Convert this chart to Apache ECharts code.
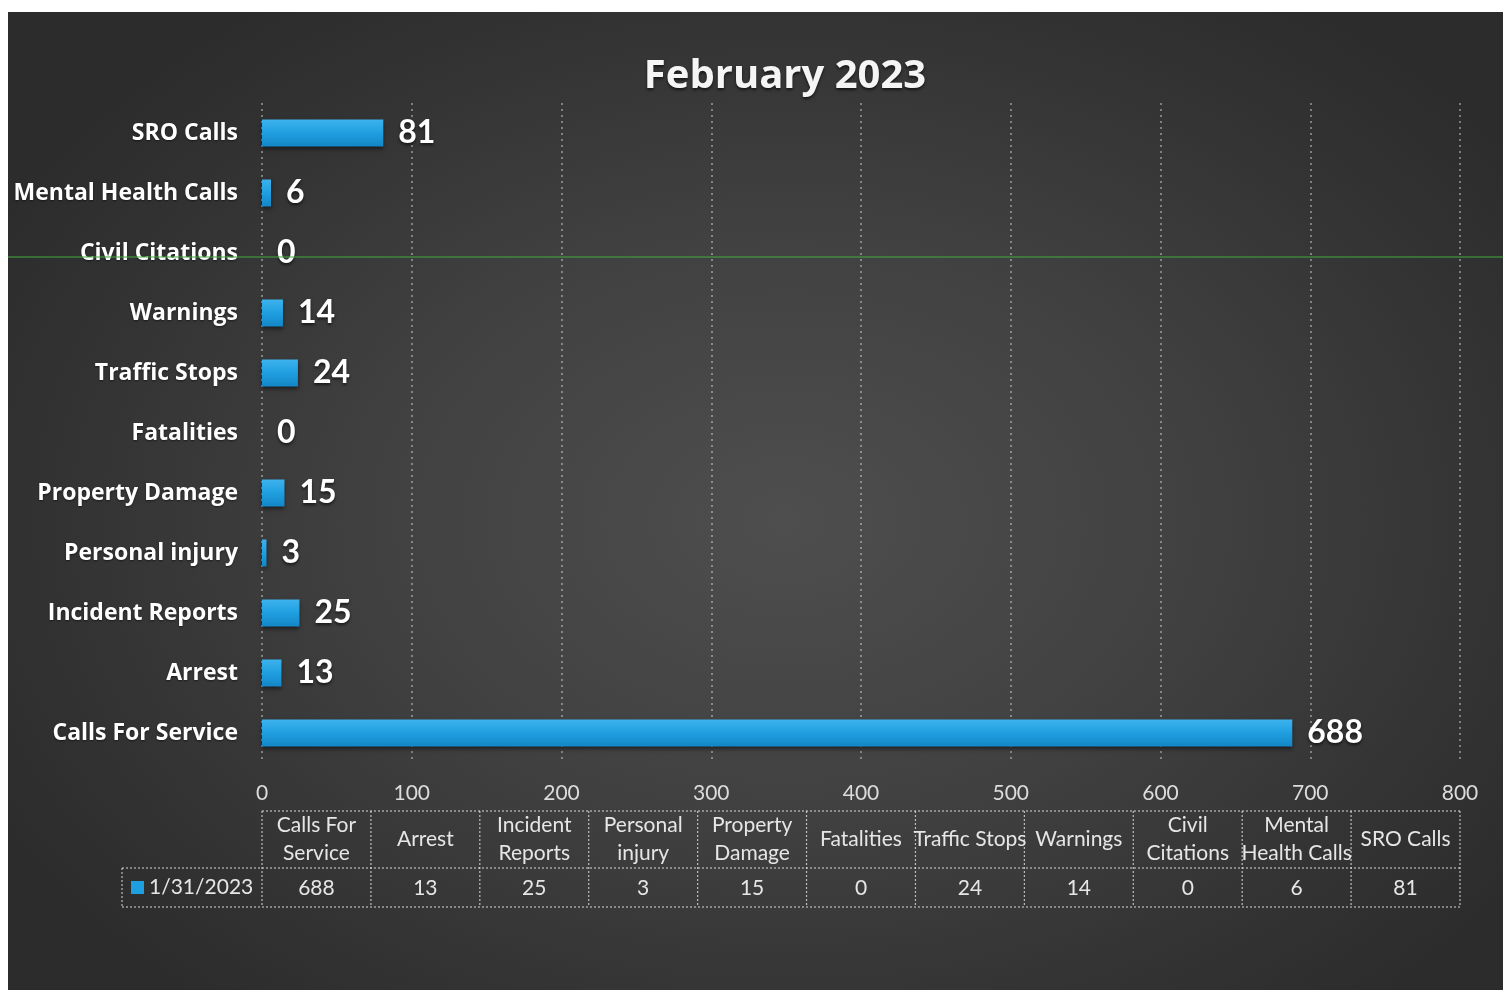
<!DOCTYPE html>
<html>
<head>
<meta charset="utf-8">
<script src="https://cdn.jsdelivr.net/npm/echarts@6/dist/echarts.min.js"></script>
<style>
  html, body { margin:0; padding:0; background:#ffffff; }
  #bg { position:absolute; left:8px; top:12px; width:1495px; height:978px;
        background: radial-gradient(ellipse 60% 65% at 52% 52%, #4e4e4e 0%, #414141 45%, #333333 80%, #2c2c2c 100%); }
  #chart { position:absolute; left:0; top:0; width:1512px; height:990px; }
</style>
</head>
<body>
<div id="bg"></div>
<div id="chart"></div>
<script>
// ---- data ----
const categories = ["Calls For Service","Arrest","Incident Reports","Personal injury","Property Damage","Fatalities","Traffic Stops","Warnings","Civil Citations","Mental Health Calls","SRO Calls"];
const tableHeaders = [["Calls For","Service"],["Arrest"],["Incident","Reports"],["Personal","injury"],["Property","Damage"],["Fatalities"],["Traffic Stops"],["Warnings"],["Civil","Citations"],["Mental","Health Calls"],["SRO Calls"]];
const values = [688, 13, 25, 3, 15, 0, 24, 14, 0, 6, 81];
const seriesName = "1/31/2023";
const titleText = "February 2023";

// ---- layout ----
const G = { left: 262, right: 52, top: 103, height: 660 };
const gridW = 1512 - G.left - G.right;
const colW = gridW / categories.length;
const tHeadTop = 811, tHeadBot = 868, tRowBot = 907, legendLeft = 122;
const lineStyle = { stroke: 'rgba(235,235,235,0.75)', lineWidth: 1.2, lineDash: [2, 2] };
const txtColor = '#e6e6e6';
const font = 'Lato, "Open Sans", sans-serif';
const fontB = '"Open Sans", Lato, sans-serif';

const graphics = [];
function hline(x1, x2, y) { graphics.push({ type:'line', shape:{x1, y1:y, x2, y2:y}, style: lineStyle, silent:true }); }
function vline(x, y1, y2) { graphics.push({ type:'line', shape:{x1:x, y1, x2:x, y2}, style: lineStyle, silent:true }); }
const tRight = G.left + gridW;
hline(G.left, tRight, tHeadTop);
hline(legendLeft, tRight, tHeadBot);
hline(legendLeft, tRight, tRowBot);
vline(legendLeft, tHeadBot, tRowBot);
for (let i = 0; i <= categories.length; i++) vline(G.left + i * colW, tHeadTop, tRowBot);
tableHeaders.forEach((lines, i) => {
  const cx = G.left + (i + 0.5) * colW;
  graphics.push({ type:'text', silent:true, style:{ x: cx, y: (tHeadTop + tHeadBot) / 2, text: lines.join('\n'),
    fill: txtColor, font: '21px ' + font, align:'center', verticalAlign:'middle', lineHeight: 28 } });
  graphics.push({ type:'text', silent:true, style:{ x: cx, y: (tHeadBot + tRowBot) / 2 + 1, text: String(values[i]),
    fill: txtColor, font: '21px ' + font, align:'center', verticalAlign:'middle' } });
});
graphics.push({ type:'rect', silent:true, shape:{ x: 131, y: 881, width: 13, height: 13 }, style:{ fill:'#1e9fe0' } });
graphics.push({ type:'text', silent:true, style:{ x: 149, y: (tHeadBot + tRowBot) / 2, text: seriesName,
  fill: txtColor, font: '21px ' + font, align:'left', verticalAlign:'middle' } });
// scanner streak
graphics.push({ type:'line', silent:true, shape:{ x1: 8, y1: 257, x2: 1503, y2: 257 }, style:{ stroke:'#3fae3f', lineWidth:1.2 }, z: 100 });

const chart = echarts.init(document.getElementById('chart'));
chart.setOption({
  backgroundColor: 'transparent',
  animation: false,
  title: { text: titleText, left: 780, top: 52, textAlign: 'center',
    textStyle: { color: '#f5f5f5', fontSize: 40, fontWeight: 'bold', fontFamily: fontB,
      textShadowColor: 'rgba(0,0,0,0.6)', textShadowBlur: 3, textShadowOffsetY: 2 } },
  grid: { left: G.left, right: G.right, top: G.top, height: G.height, containLabel: false },
  xAxis: { type: 'value', min: 0, max: 800, interval: 100,
    axisLine: { show: false }, axisTick: { show: false },
    axisLabel: { color: '#dcdcdc', fontSize: 21, fontFamily: font, margin: 20 },
    splitLine: { show: true, lineStyle: { color: 'rgba(235,235,235,0.55)', type: [2, 4], width: 1.5 } } },
  yAxis: { type: 'category', data: categories,
    axisLine: { show: false }, axisTick: { show: false },
    axisLabel: { color: '#ffffff', fontSize: 23, fontWeight: 'bold', fontFamily: fontB, margin: 24,
      textShadowColor: 'rgba(0,0,0,0.5)', textShadowBlur: 2, textShadowOffsetY: 1 } },
  series: [{
    type: 'bar', name: seriesName, data: values, barWidth: 27,
    itemStyle: { color: new echarts.graphic.LinearGradient(0, 0, 0, 1, [
        { offset: 0, color: '#3db2ee' }, { offset: 0.5, color: '#1f9fe0' }, { offset: 1, color: '#1386c6' }]),
      shadowColor: 'rgba(0,0,0,0.5)', shadowBlur: 4, shadowOffsetY: 2 },
    label: { show: true, position: 'right', distance: 15, color: '#ffffff', fontSize: 32, fontWeight: 'bold', fontFamily: font,
      textShadowColor: 'rgba(0,0,0,0.6)', textShadowBlur: 3, textShadowOffsetY: 2 }
  }],
  graphic: { elements: graphics }
});
</script>
</body>
</html>
